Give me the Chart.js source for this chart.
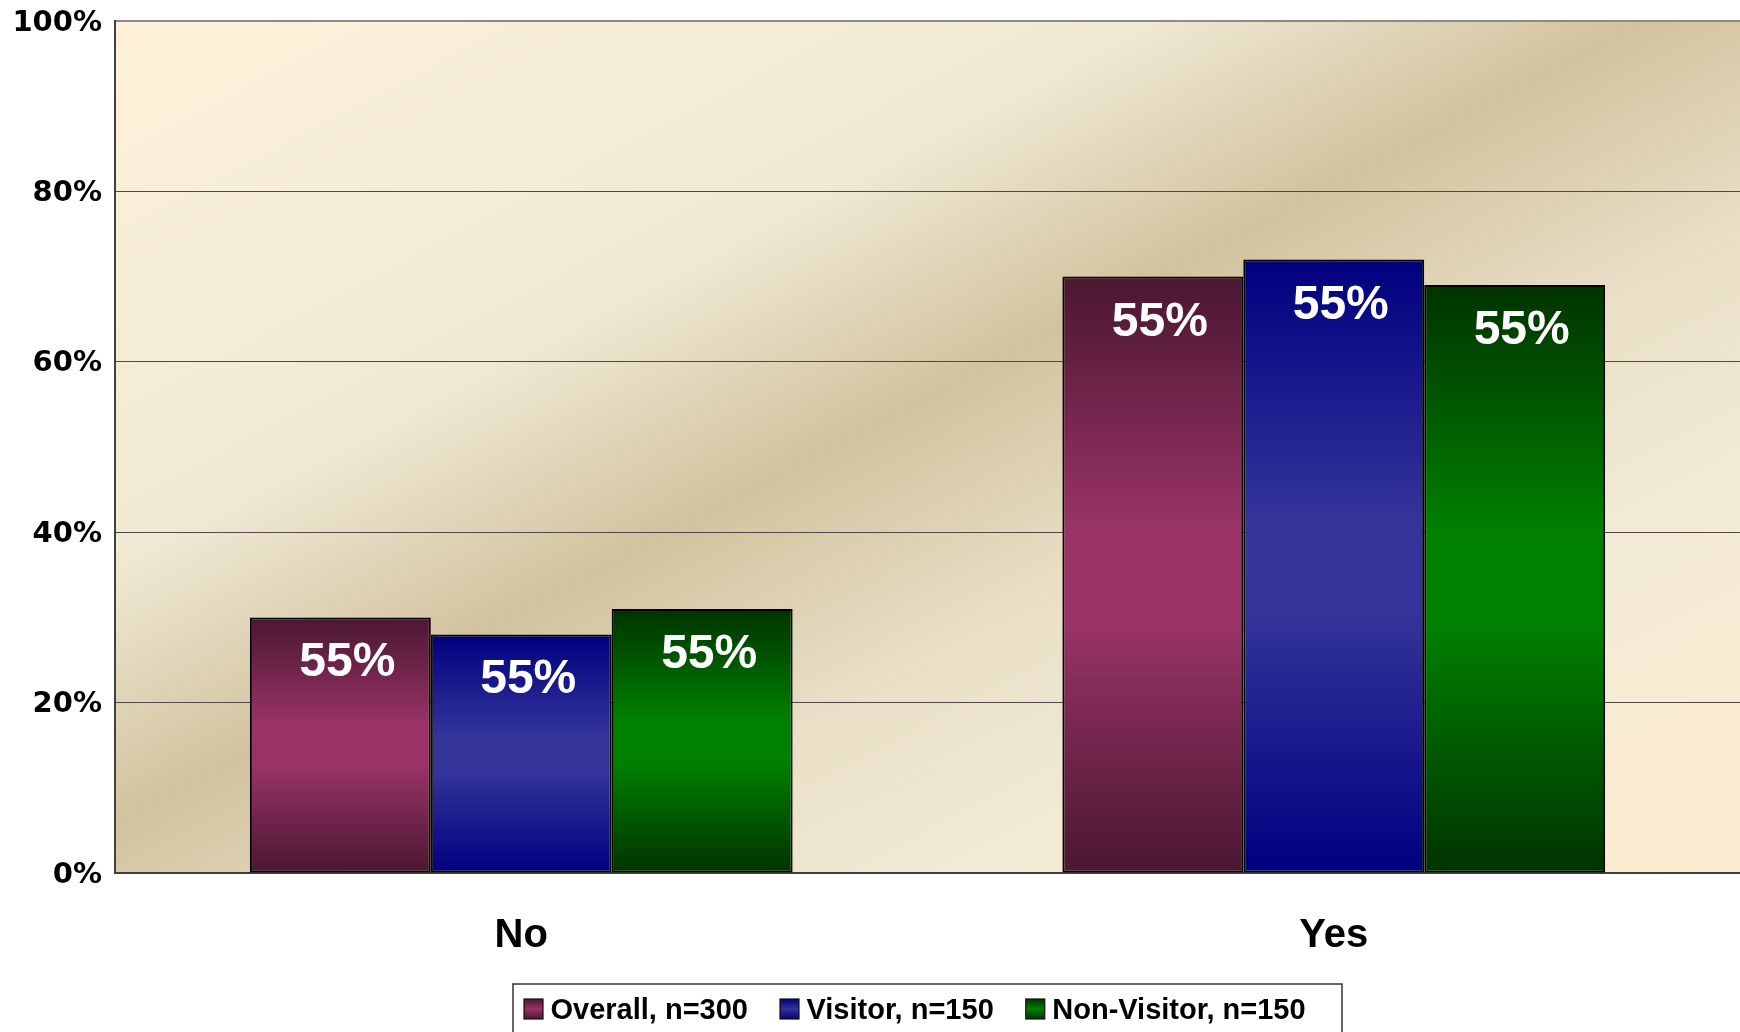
<!DOCTYPE html>
<html>
<head>
<meta charset="utf-8">
<script src="https://cdn.jsdelivr.net/npm/chart.js@4.4.1/dist/chart.umd.min.js"></script>
<style>
  html, body { margin: 0; padding: 0; background: #fff; overflow: hidden; }
  #wrap { width: 1740px; height: 1032px; }
</style>
</head>
<body>
<div id="wrap"><canvas id="survey" width="1740" height="1032"></canvas></div>
<script>
// values (percent of respondents)
const categories = ["No", "Yes"];
const overallValues = [30, 70];
const visitorValues = [28, 72];
const nonVisitorValues = [31, 69];
const seriesNames = ["Overall, n=300", "Visitor, n=150", "Non-Visitor, n=150"];
// text printed inside each bar, per series
const overallLabels = ["55%", "55%"];
const visitorLabels = ["55%", "55%"];
const nonVisitorLabels = ["55%", "55%"];
const yTickValues = [0, 20, 40, 60, 80, 100];

// dark edge / light middle for the cylinder-ish bar shading
const shades = [
  { dark: "#4a1731", light: "#993366" },
  { dark: "#000080", light: "#333399" },
  { dark: "#003300", light: "#008000" }
];

function barFill(i) {
  return (c) => {
    const chart = c.chart;
    if (c.type !== "data" || !chart.chartArea) return shades[i].light;
    const y = chart.scales.y;
    const top = y.getPixelForValue(c.raw);
    const base = y.getPixelForValue(0);
    const g = chart.ctx.createLinearGradient(0, top, 0, base);
    g.addColorStop(0, shades[i].dark);
    g.addColorStop(0.42, shades[i].light);
    g.addColorStop(0.58, shades[i].light);
    g.addColorStop(1, shades[i].dark);
    return g;
  };
}

// parchment diagonal fill behind the plot
const backdrop = {
  id: "backdrop",
  beforeDraw(chart) {
    const { ctx, chartArea: { left, top, right, bottom } } = chart;
    const w = right - left, h = bottom - top;
    // isolines follow the rectangle's anti-diagonal
    const s = 2 / (h / w + w / h);
    const g = ctx.createLinearGradient(left, top, left + h * s, top + w * s);
    g.addColorStop(0, "#fff1d8");
    g.addColorStop(0.18, "#f5edd8");
    g.addColorStop(0.32, "#efe8d3");
    g.addColorStop(0.47, "#d2c39f");
    g.addColorStop(0.62, "#e9dfc6");
    g.addColorStop(0.76, "#f2ead5");
    g.addColorStop(1, "#fdecd0");
    ctx.save();
    ctx.fillStyle = g;
    ctx.fillRect(left, top, w, h);
    ctx.restore();
  }
};

const barText = {
  id: "barText",
  afterDatasetsDraw(chart) {
    const { ctx } = chart;
    const texts = [overallLabels, visitorLabels, nonVisitorLabels];
    ctx.save();
    ctx.font = "bold 48px 'Liberation Sans', Arial, sans-serif";
    ctx.fillStyle = "#ffffff";
    ctx.textAlign = "center";
    ctx.textBaseline = "alphabetic";
    chart.data.datasets.forEach((ds, i) => {
      chart.getDatasetMeta(i).data.forEach((bar, j) => {
        ctx.fillText(texts[i][j], bar.x + 7, bar.y + 59);
      });
    });
    ctx.restore();
  }
};

// boxed legend under the axis labels
const boxLegend = {
  id: "boxLegend",
  afterDraw(chart) {
    const { ctx, chartArea } = chart;
    const boxW = 829;
    const boxL = (chartArea.left + chartArea.right) / 2 - boxW / 2;
    const boxT = 984;
    ctx.save();
    ctx.fillStyle = "#fff";
    ctx.fillRect(boxL, boxT, boxW, 80);
    ctx.strokeStyle = "#333";
    ctx.lineWidth = 1.5;
    ctx.strokeRect(boxL, boxT, boxW, 80);

    ctx.font = "bold 29px 'Liberation Sans', Arial, sans-serif";
    ctx.textBaseline = "alphabetic";
    ctx.textAlign = "left";
    let x = boxL + 11;
    seriesNames.forEach((name, i) => {
      const sw = ctx.createLinearGradient(0, 999, 0, 1019);
      sw.addColorStop(0, shades[i].dark);
      sw.addColorStop(0.5, shades[i].light);
      sw.addColorStop(1, shades[i].dark);
      ctx.fillStyle = sw;
      ctx.fillRect(x, 999, 19, 20);
      ctx.lineWidth = 1.2;
      ctx.strokeStyle = "#111";
      ctx.strokeRect(x, 999, 19, 20);
      ctx.fillStyle = "#000";
      ctx.fillText(name, x + 26.5, 1019);
      x += 26.5 + ctx.measureText(name).width + 32;
    });
    ctx.restore();
  }
};

const chart = new Chart(document.getElementById("survey"), {
  type: "bar",
  data: {
    labels: categories,
    datasets: [
      { label: seriesNames[0], data: overallValues, backgroundColor: barFill(0) },
      { label: seriesNames[1], data: visitorValues, backgroundColor: barFill(1) },
      { label: seriesNames[2], data: nonVisitorValues, backgroundColor: barFill(2) }
    ].map((d) => Object.assign(d, {
      borderColor: "#000",
      borderWidth: 2,
      borderSkipped: false,
      barPercentage: 1,
      categoryPercentage: 0.668
    }))
  },
  options: {
    responsive: false,
    animation: false,
    layout: { padding: { top: 21, right: 0, bottom: 0, left: 0 } },
    plugins: {
      legend: { display: false },
      tooltip: { enabled: false }
    },
    scales: {
      x: {
        grid: { display: false },
        border: { display: true, color: "#404040", width: 2 },
        ticks: {
          color: "#000",
          padding: 31,
          font: { family: "'Liberation Sans', Arial, sans-serif", size: 40, weight: "bold" }
        },
        afterFit(scale) { scale.height = 159; }
      },
      y: {
        min: 0,
        max: 100,
        afterBuildTicks(scale) { scale.ticks = yTickValues.map((v) => ({ value: v })); },
        grid: {
          drawTicks: false,
          color: (c) => (c.tick && c.tick.value === 100 ? "#8a8a8a" : "#4a4a4a"),
          lineWidth: (c) => (c.tick && c.tick.value === 100 ? 2 : 1)
        },
        border: { display: true, color: "#404040", width: 2 },
        ticks: {
          color: "#000",
          padding: 13,
          labelOffset: 2,
          font: { family: "'DejaVu Sans', Verdana, sans-serif", size: 29, weight: "bold" },
          callback: (v) => v + "%"
        },
        afterFit(scale) {
          scale.width = 115;
          scale.paddingTop = 0;
          scale.paddingBottom = 0;
        }
      }
    }
  },
  plugins: [backdrop, barText, boxLegend]
});
</script>
</body>
</html>
